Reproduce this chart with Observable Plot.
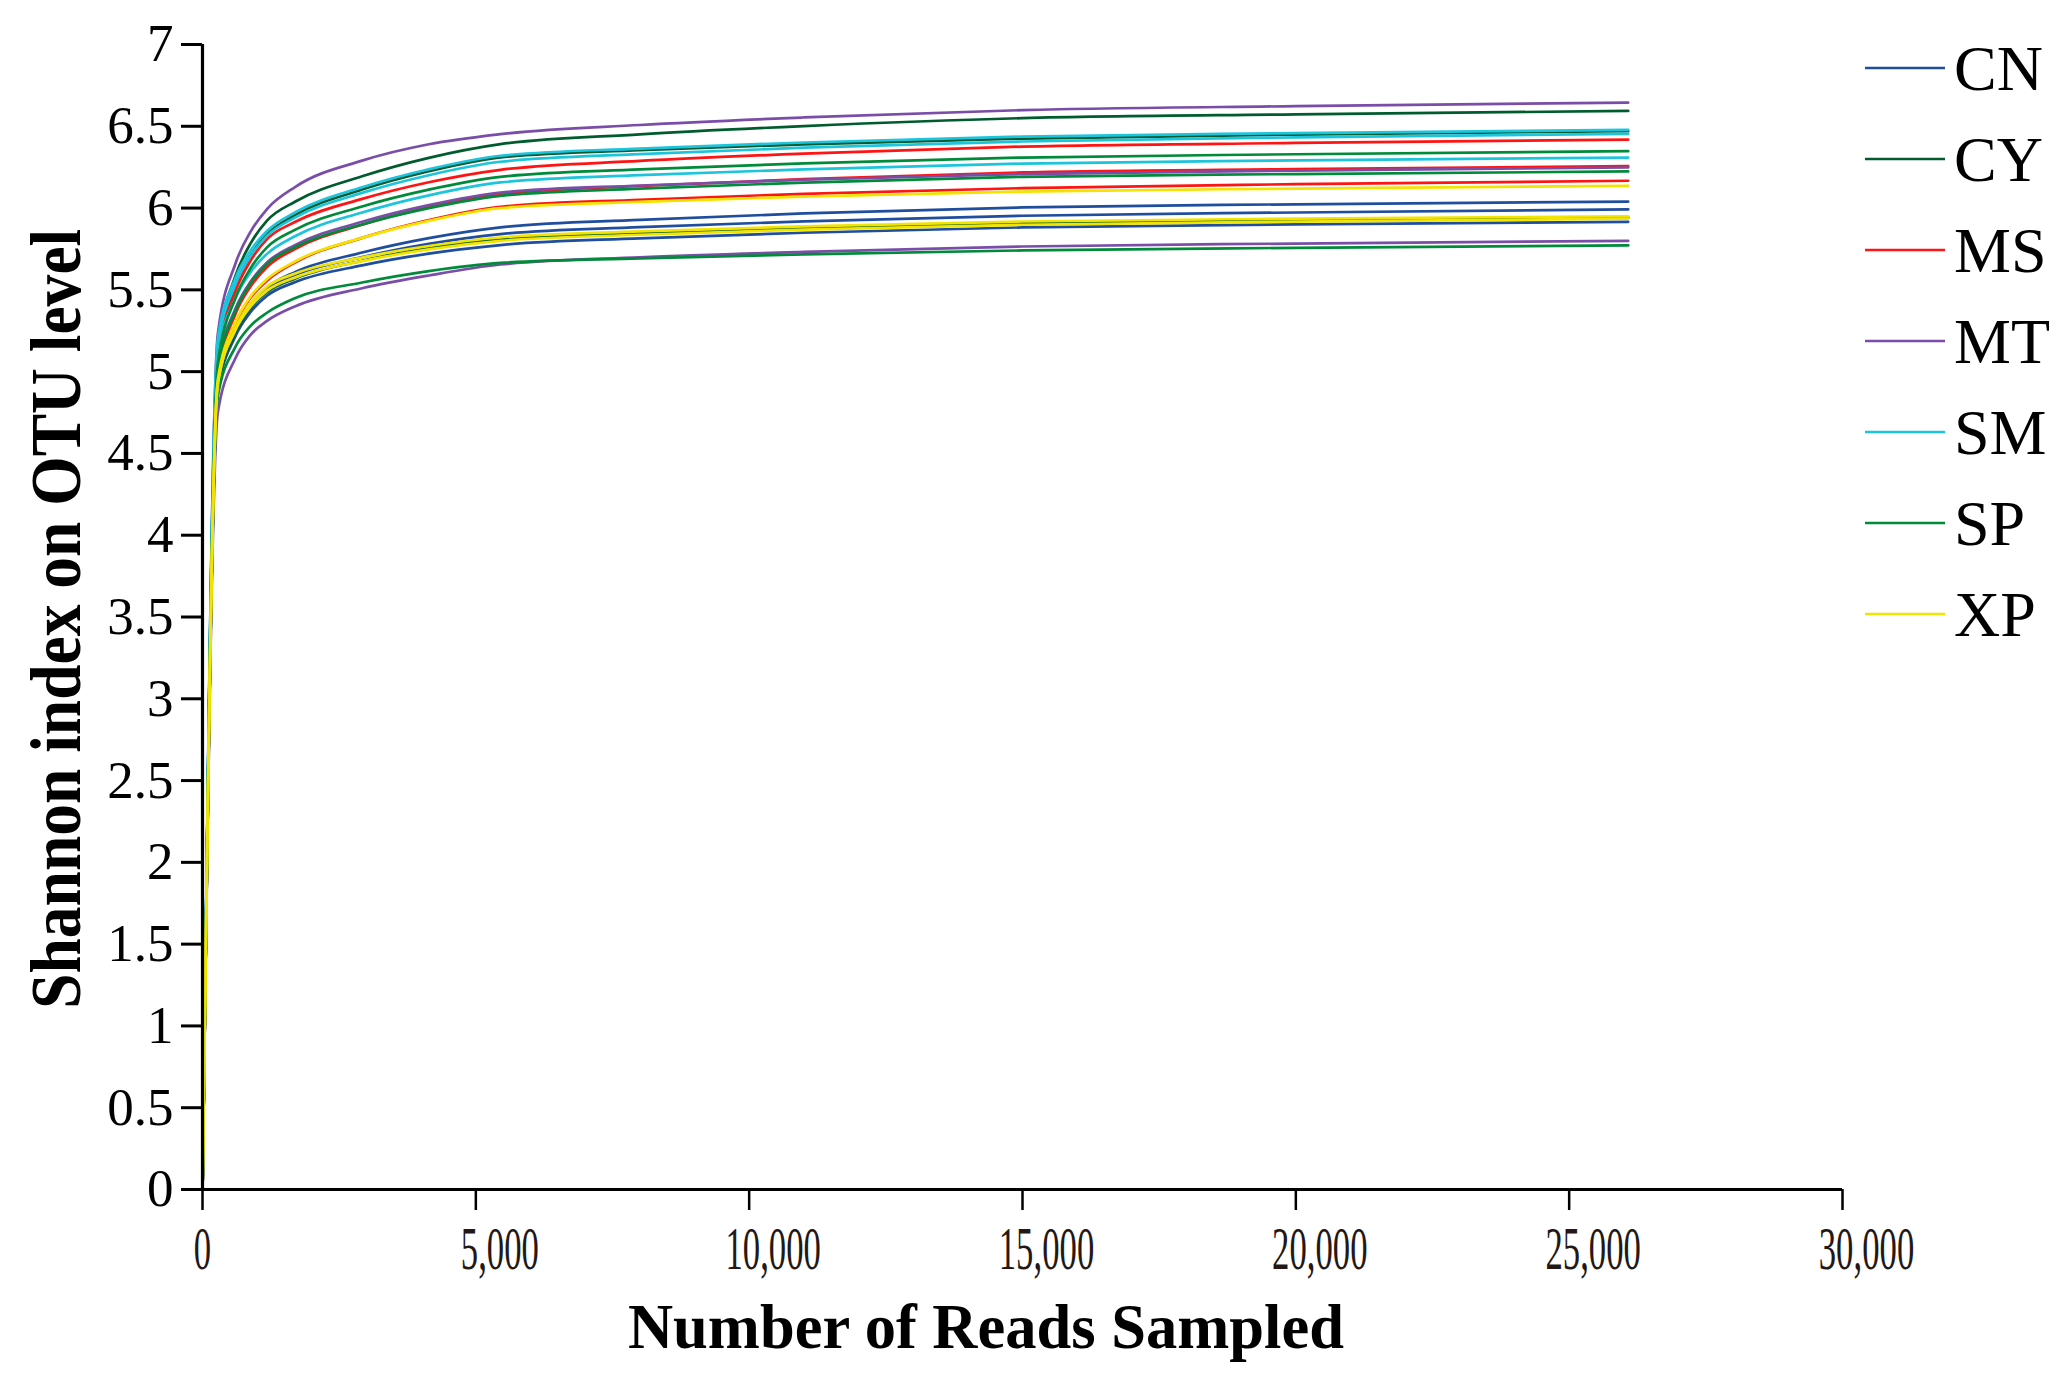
<!DOCTYPE html>
<html><head><meta charset="utf-8">
<script src="https://cdn.jsdelivr.net/npm/d3@7"></script>
<script src="https://cdn.jsdelivr.net/npm/@observablehq/plot@0.6"></script>
<style>body{margin:0;background:#fff;}</style>
</head><body><div id="chart"></div>
<script>
// Number of reads sampled (x) at which each curve was read
const reads = [1, 280, 600, 880, 1180, 1700, 2920, 4140, 5450, 8000, 11000, 15000, 20000, 26080];

// Shannon index values per sample
const CN_1 = [0, 4.92, 5.260, 5.415, 5.515, 5.610, 5.728, 5.816, 5.882, 5.928, 5.967, 6.004, 6.023, 6.040];
const CN_2 = [0, 4.90, 5.245, 5.400, 5.505, 5.592, 5.700, 5.781, 5.841, 5.883, 5.919, 5.953, 5.973, 5.992];
const CN_3 = [0, 4.88, 5.215, 5.365, 5.464, 5.548, 5.650, 5.722, 5.774, 5.815, 5.849, 5.882, 5.900, 5.916];
const CY_1 = [0, 5.15, 5.583, 5.784, 5.923, 6.040, 6.194, 6.307, 6.391, 6.451, 6.501, 6.550, 6.573, 6.594];
const CY_2 = [0, 5.12, 5.523, 5.710, 5.840, 5.958, 6.113, 6.225, 6.310, 6.354, 6.390, 6.425, 6.449, 6.470];
const CY_3 = [0, 4.90, 5.235, 5.388, 5.485, 5.570, 5.678, 5.755, 5.810, 5.846, 5.877, 5.906, 5.925, 5.943];
const MS_1 = [0, 5.08, 5.489, 5.679, 5.810, 5.916, 6.056, 6.158, 6.234, 6.288, 6.333, 6.376, 6.398, 6.419];
const MS_2 = [0, 4.98, 5.350, 5.521, 5.640, 5.751, 5.898, 6.005, 6.085, 6.135, 6.177, 6.218, 6.238, 6.256];
const MS_3 = [0, 4.95, 5.295, 5.452, 5.556, 5.669, 5.818, 5.927, 6.008, 6.051, 6.087, 6.122, 6.146, 6.167];
const MT_1 = [0, 5.23, 5.658, 5.856, 5.994, 6.130, 6.290, 6.390, 6.452, 6.508, 6.554, 6.599, 6.623, 6.645];
const MT_2 = [0, 5.02, 5.383, 5.551, 5.668, 5.775, 5.916, 6.018, 6.095, 6.138, 6.173, 6.208, 6.229, 6.248];
const MT_3 = [0, 4.75, 5.080, 5.225, 5.310, 5.400, 5.510, 5.588, 5.655, 5.699, 5.732, 5.765, 5.783, 5.800];
const SM_1 = [0, 5.20, 5.570, 5.741, 5.860, 5.975, 6.127, 6.237, 6.320, 6.364, 6.401, 6.437, 6.458, 6.478];
const SM_2 = [0, 5.15, 5.531, 5.708, 5.830, 5.943, 6.093, 6.201, 6.283, 6.330, 6.369, 6.407, 6.432, 6.454];
const SM_3 = [0, 5.10, 5.447, 5.608, 5.720, 5.829, 5.973, 6.078, 6.157, 6.201, 6.237, 6.272, 6.291, 6.309];
const SP_1 = [0, 5.05, 5.448, 5.632, 5.760, 5.868, 6.010, 6.113, 6.191, 6.236, 6.273, 6.309, 6.329, 6.348];
const SP_2 = [0, 5.00, 5.368, 5.540, 5.658, 5.762, 5.900, 6.000, 6.075, 6.119, 6.156, 6.191, 6.208, 6.224];
const SP_3 = [0, 4.85, 5.150, 5.280, 5.360, 5.450, 5.545, 5.615, 5.665, 5.692, 5.717, 5.741, 5.757, 5.772];
const XP_1 = [0, 4.95, 5.300, 5.460, 5.566, 5.675, 5.818, 5.922, 6.000, 6.038, 6.070, 6.101, 6.119, 6.136];
const XP_2 = [0, 4.92, 5.262, 5.418, 5.520, 5.600, 5.698, 5.768, 5.820, 5.857, 5.888, 5.918, 5.935, 5.950];
const XP_3 = [0, 4.93, 5.252, 5.398, 5.495, 5.576, 5.676, 5.748, 5.800, 5.837, 5.868, 5.898, 5.917, 5.935];

const groups = ["CN", "CY", "MS", "MT", "SM", "SP", "XP"];
const groupColors = ["#1f4e9e", "#005c2e", "#ff1414", "#7a4ea8", "#1cc4dc", "#008b3a", "#f2e400"];

const xTicks = [0, 5000, 10000, 15000, 20000, 25000, 30000];
const xTickLabels = ["0", "5,000", "10,000", "15,000", "20,000", "25,000", "30,000"];
const yTicks = [0, 0.5, 1, 1.5, 2, 2.5, 3, 3.5, 4, 4.5, 5, 5.5, 6, 6.5, 7];
const yTickLabels = ["0", "0.5", "1", "1.5", "2", "2.5", "3", "3.5", "4", "4.5", "5", "5.5", "6", "6.5", "7"];

const xTitle = "Number of Reads Sampled";
const yTitle = "Shannon index on OTU level";

// build a tidy table for Plot
const seriesByGroup = {
  CN: [CN_1, CN_2, CN_3], CY: [CY_1, CY_2, CY_3], MS: [MS_1, MS_2, MS_3],
  MT: [MT_1, MT_2, MT_3], SM: [SM_1, SM_2, SM_3], SP: [SP_1, SP_2, SP_3], XP: [XP_1, XP_2, XP_3]
};
const rows = [];
groups.forEach(g => seriesByGroup[g].forEach((vals, k) =>
  vals.forEach((v, i) => rows.push({group: g, sample: g + "_" + (k + 1), reads: reads[i], shannon: v}))));

const W = 2070, H = 1393, mL = 202, mR = 228, mT = 44, mB = 204;
const serif = "'Liberation Serif', 'Times New Roman', serif";

const plot = Plot.plot({
  width: W, height: H,
  marginLeft: mL, marginRight: mR, marginTop: mT, marginBottom: mB,
  style: {fontFamily: serif, background: "#fff", color: "#000", overflow: "visible"},
  x: {domain: [0, 30000]},
  y: {domain: [0, 7]},
  color: {domain: groups, range: groupColors},
  marks: [
    Plot.line(rows, {x: "reads", y: "shannon", z: "sample", stroke: "group", strokeWidth: 2.7, curve: "monotone-x"}),
    Plot.ruleX([0], {strokeWidth: 3.2}),
    Plot.ruleY([0], {strokeWidth: 3.2}),
    Plot.axisY({ticks: yTicks, tickFormat: d => yTickLabels[yTicks.indexOf(d)], tickSize: 21, tickPadding: 8,
      strokeWidth: 3, fontSize: 53, label: null}),
    Plot.axisX({ticks: xTicks, tickFormat: d => xTickLabels[xTicks.indexOf(d)], tickSize: 21, tickPadding: 14,
      strokeWidth: 2.5, fontSize: 62, label: null})
  ]
});
document.getElementById("chart").append(plot);

const svg = d3.select(plot);
// condensed x tick labels
svg.selectAll('g[aria-label="x-axis tick label"] text').each(function() {
  const L = this.getComputedTextLength();
  this.setAttribute("textLength", L * 0.56);
  this.setAttribute("lengthAdjust", "spacingAndGlyphs");
  this.setAttribute("fill", "#231815");
  if (this.textContent !== "0") this.setAttribute("dx", 24);
});

// axis titles
svg.append("text")
  .attr("transform", `translate(80, ${mT + (H - mT - mB) * 0.502}) rotate(-90)`)
  .attr("text-anchor", "middle").attr("font-family", serif).attr("font-weight", "bold")
  .attr("font-size", 72).attr("textLength", 780).attr("lengthAdjust", "spacingAndGlyphs")
  .attr("fill", "#000").text(yTitle);
svg.append("text")
  .attr("x", mL + (W - mL - mR) * 0.478).attr("y", 1348)
  .attr("text-anchor", "middle").attr("font-family", serif).attr("font-weight", "bold")
  .attr("font-size", 64).attr("textLength", 716).attr("lengthAdjust", "spacingAndGlyphs")
  .attr("fill", "#000").text(xTitle);

// legend
const lg = svg.append("g").attr("font-family", serif).attr("font-size", 64).attr("text-anchor", "start");
groups.forEach((g, i) => {
  const y = 68 + i * 91;
  lg.append("line").attr("x1", 1865).attr("x2", 1945).attr("y1", y).attr("y2", y)
    .attr("stroke", groupColors[i]).attr("stroke-width", 2.6);
  lg.append("text").attr("x", 1954).attr("y", y).attr("dy", "0.35em").attr("text-anchor", "start")
    .attr("fill", "#000").text(g);
});
</script>
</body></html>
